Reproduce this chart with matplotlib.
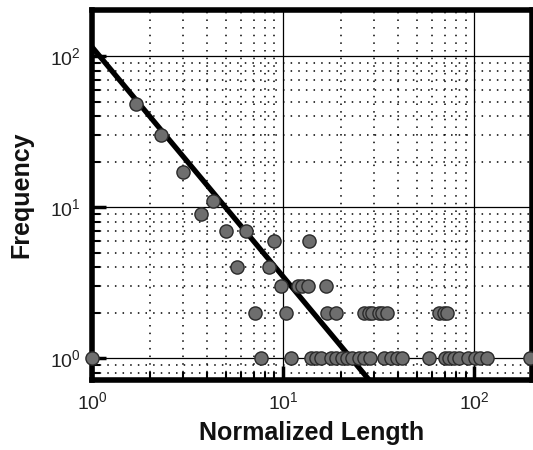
import numpy as np
import matplotlib.pyplot as plt
from matplotlib.ticker import LogLocator, NullFormatter

plt.rcParams['font.family'] = ['Liberation Sans', 'DejaVu Sans']

# data
x_pts = np.array([1.0, 1.7, 2.3, 3.0, 3.7, 4.3, 5.0, 5.7, 6.4, 7.1, 7.65, 8.45, 9.0,
                  9.7, 10.3, 10.96, 11.9, 12.6, 13.4, 13.7, 13.9, 14.8, 15.7, 16.7,
                  17.0, 17.7, 18.8, 18.8, 20.4, 21.6, 23.0, 24.9, 26.4, 26.4, 28.0,
                  28.6, 29.2, 31.6, 32.9, 33.6, 34.9, 36.4, 39.4, 41.8, 57.6, 64.9,
                  69.0, 70.3, 71.8, 73.2, 77.8, 82.6, 93.0, 100.8, 107.0, 116.0, 195.0])
y_pts = np.array([1, 48, 30, 17, 9, 11, 7, 4, 7, 2, 1, 4, 6,
                  3, 2, 1, 3, 3, 3, 6, 1, 1, 1, 3,
                  2, 1, 2, 1, 1, 1, 1, 1, 2, 1, 2,
                  1, 2, 2, 2, 1, 2, 1, 1, 1, 1, 2,
                  2, 1, 2, 1, 1, 1, 1, 1, 1, 1, 1])

# power-law fit line
fit_a = 115.0
fit_b = -1.52

fig = plt.figure(figsize=(5.33, 4.5), dpi=100)
ax = fig.add_axes([92/533, 70/450, 440/533, 370/450])

xs = np.logspace(0, np.log10(200), 200)
ax.plot(xs, fit_a * xs**fit_b, color='black', lw=3.8, zorder=3, solid_capstyle='butt')
ax.scatter(x_pts, y_pts, s=90, c='#6e6e6e', edgecolors='#2a2a2a', linewidths=1.0, zorder=4,
           clip_on=False)

ax.set_xscale('log')
ax.set_yscale('log')
ax.set_xlim(1, 200)
ax.set_ylim(0.72, 202)

ax.xaxis.set_minor_locator(LogLocator(base=10, subs=np.arange(2, 10)))
ax.yaxis.set_minor_locator(LogLocator(base=10, subs=np.arange(2, 10)))
ax.xaxis.set_minor_formatter(NullFormatter())
ax.yaxis.set_minor_formatter(NullFormatter())

ax.grid(True, which='major', color='black', lw=0.9, ls='-')
ax.grid(True, which='minor', color='black', lw=1.1, ls=(0, (1, 4)))
ax.set_axisbelow(True)

for s in ax.spines.values():
    s.set_linewidth(4)

ax.tick_params(which='major', direction='in', length=10, width=2.5, labelsize=14,
               pad=8, top=False, right=False, labelcolor='#222222')
ax.tick_params(which='minor', direction='in', length=6, width=1.5, top=False, right=False)

ax.set_xlabel('Normalized Length', fontsize=18, fontweight='bold', labelpad=6,
              color='#111111')
ax.set_ylabel('Frequency', fontsize=18, fontweight='bold', labelpad=12, color='#111111')

fig.savefig('out.png', dpi=100)
